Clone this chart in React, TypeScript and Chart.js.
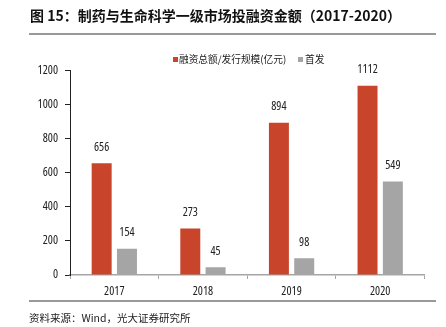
import React, { useEffect, useRef } from "react";
import { Chart, registerables } from "chart.js";

Chart.register(...registerables);

const years = ["2017", "2018", "2019", "2020"];
const totalFinancing = [656, 273, 894, 1112];
const ipo = [154, 45, 98, 549];
const seriesNames = ["融资总额/发行规模(亿元)", "首发"];
const yTicks = [0, 200, 400, 600, 800, 1000, 1200];

const RED = "#C8452B";
const GRAY = "#A5A5A5";
const NUM_FONT = "'Open Sans', sans-serif";
const CJK_FONT = "'Noto Sans CJK SC', 'Noto Sans', sans-serif";

const condensed = {
  id: "condensed",
  beforeUpdate(chart: any) {
    (chart.ctx as any).fontStretch = "condensed";
  },
  beforeDraw(chart: any) {
    (chart.ctx as any).fontStretch = "condensed";
  },
};

const valueLabels = {
  id: "valueLabels",
  afterDatasetsDraw(chart: any) {
    const ctx = chart.ctx;
    ctx.save();
    ctx.font = `12px ${NUM_FONT}`;
    (ctx as any).fontStretch = "condensed";
    ctx.fillStyle = "#222";
    ctx.textAlign = "center";
    ctx.textBaseline = "middle";
    chart.data.datasets.forEach((ds: any, i: number) => {
      const meta = chart.getDatasetMeta(i);
      meta.data.forEach((el: any, j: number) => {
        ctx.fillText(String(ds.data[j]), el.x, el.y - 16);
      });
    });
    ctx.restore();
  },
};

export default function App() {
  const ref = useRef<HTMLCanvasElement>(null);
  useEffect(() => {
    const chart = new Chart(ref.current!, {
      type: "bar",
      data: {
        labels: years,
        datasets: [
          { label: seriesNames[0], data: totalFinancing, backgroundColor: RED, categoryPercentage: 0.571, barPercentage: 0.79 },
          { label: seriesNames[1], data: ipo, backgroundColor: GRAY, categoryPercentage: 0.571, barPercentage: 0.79 },
        ],
      },
      options: {
        responsive: false,
        animation: false,
        layout: { padding: { left: 0, right: 21.5, top: 70.7, bottom: 27 } },
        plugins: { legend: { display: false }, tooltip: { enabled: false } },
        scales: {
          x: {
            afterFit: (s: any) => { s.height = 25; },
            grid: { display: true, drawOnChartArea: false, drawTicks: true, tickLength: 4, color: "#A6A6A6", offset: true },
            border: { display: true, color: "#A6A6A6", width: 1.5 },
            ticks: { color: "#222", font: { family: NUM_FONT, size: 12 }, padding: 5 },
          },
          y: {
            min: 0,
            max: 1200,
            afterFit: (s: any) => { s.width = 70; },
            afterBuildTicks: (s: any) => { s.ticks = yTicks.map((v) => ({ value: v })); },
            grid: { display: true, drawOnChartArea: false, drawTicks: true, tickLength: 5, color: "#222" },
            border: { display: true, color: "#222", width: 1 },
            ticks: { color: "#222", font: { family: NUM_FONT, size: 12 }, padding: 7, callback: (v: any) => String(v) },
          },
        },
      },
      plugins: [condensed, valueLabels],
    });
    return () => chart.destroy();
  }, []);

  const abs = (s: React.CSSProperties): React.CSSProperties => ({ position: "absolute", ...s });
  const legendText: React.CSSProperties = { fontFamily: CJK_FONT, fontSize: 9.7, lineHeight: "16px", color: "#222", whiteSpace: "nowrap" };

  return (
    <div style={{ position: "fixed", left: 0, top: 0, width: 446, height: 327, background: "#fff", overflow: "hidden" }}>
      <canvas ref={ref} width={446} height={327} style={abs({ left: 0, top: 0, width: 446, height: 327 })} />
      <div style={abs({ left: 30, top: 5, fontFamily: CJK_FONT, fontWeight: 700, fontSize: 14, lineHeight: "20px", color: "#111", whiteSpace: "nowrap" })}>
        图 15：制药与生命科学一级市场投融资金额（2017-2020）
      </div>
      <div style={abs({ left: 29, top: 33, width: 407, height: 2, background: "#999" })} />
      <div style={abs({ left: 172.5, top: 56.5, width: 5, height: 5, background: RED })} />
      <div style={abs({ left: 179, top: 51, ...legendText })}>{seriesNames[0]}</div>
      <div style={abs({ left: 297.5, top: 56.5, width: 5, height: 5, background: GRAY })} />
      <div style={abs({ left: 305, top: 51, ...legendText })}>{seriesNames[1]}</div>
      <div style={abs({ left: 29, top: 300, width: 407, height: 1.5, background: "#999" })} />
      <div style={abs({ left: 29, top: 310, fontFamily: CJK_FONT, fontSize: 10.5, lineHeight: "16px", color: "#222", whiteSpace: "nowrap" })}>
        资料来源：Wind，光大证券研究所
      </div>
    </div>
  );
}
